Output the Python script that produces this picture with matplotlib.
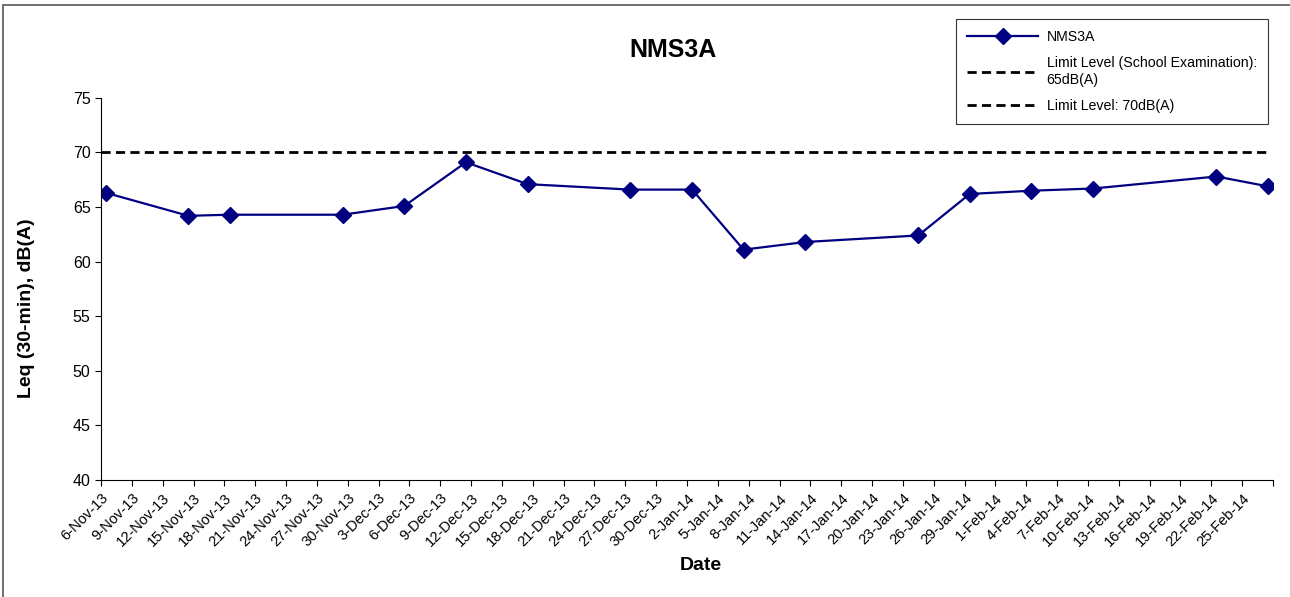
import pandas as pd
import matplotlib
matplotlib.use("Agg")
import matplotlib.pyplot as plt
from matplotlib.patches import Rectangle

plt.rcParams["font.family"] = ["Liberation Sans", "DejaVu Sans"]

dates = [
    "2013-11-06", "2013-11-14", "2013-11-18", "2013-11-29", "2013-12-05",
    "2013-12-11", "2013-12-17", "2013-12-27", "2014-01-02", "2014-01-07",
    "2014-01-13", "2014-01-24", "2014-01-29", "2014-02-04", "2014-02-10",
    "2014-02-22", "2014-02-27",
]
leq = [
    66.3, 64.2, 64.3, 64.3, 65.1,
    69.1, 67.1, 66.6, 66.6, 61.1,
    61.8, 62.4, 66.2, 66.5, 66.7,
    67.8, 66.9,
]
limit_school = 65
limit_general = 70
axis_start = "2013-11-06"
axis_end = "2014-02-28"
y_ticks = [40, 45, 50, 55, 60, 65, 70, 75]


def make_chart():
    fig = plt.figure(figsize=(12.9, 5.97), dpi=100)
    ax = fig.add_axes([0.0783, 0.196, 0.9085, 0.640])

    x = pd.to_datetime(dates) + pd.Timedelta(hours=12)
    start = pd.Timestamp(axis_start)
    end = pd.Timestamp(axis_end)
    dash = (0, (3.3, 1.9))

    ax.plot(x, leq, color="#000080", lw=1.6, marker="D", ms=8,
            label="NMS3A")
    # school exam limit has no points inside this period
    ax.plot([], [], color="black", ls=dash, lw=2,
            label="Limit Level (School Examination):\n65dB(A)")
    ax.hlines(limit_general, start, x[-1], color="black",
              ls=dash, lw=2, label="Limit Level: 70dB(A)")

    ticks = pd.date_range(start, end, freq="3D")
    ax.set_xticks(ticks)
    labels = [f"{d.day}-{d.strftime('%b-%y')}" for d in ticks]
    labels[-1] = ""
    ax.set_xticklabels(labels, rotation=45, ha="right",
                       rotation_mode="anchor", fontsize=10.5)
    ax.set_xlim(start, end)
    ax.set_ylim(40, 75)
    ax.set_yticks(y_ticks)
    ax.tick_params(axis="y", labelsize=11.5, length=4)
    ax.tick_params(axis="x", length=4, pad=4)

    ax.spines["top"].set_visible(False)
    ax.spines["right"].set_visible(False)

    fig.text(673 / 1290, 1 - 50 / 597, "NMS3A", ha="center", va="center",
             fontsize=18, fontweight="bold")
    fig.text(27 / 1290, 1 - 308 / 597, "Leq (30-min), dB(A)", rotation=90,
             ha="center", va="center", fontsize=14, fontweight="bold")
    fig.text(701 / 1290, 1 - 565 / 597, "Date", ha="center", va="center",
             fontsize=14, fontweight="bold")

    leg = fig.legend(loc="upper left",
                     bbox_to_anchor=(956 / 1290, 1 - 19 / 597),
                     borderaxespad=0, frameon=True, fancybox=False,
                     fontsize=10.2, handlelength=5.0, handletextpad=0.6,
                     labelspacing=0.85, borderpad=0.8)
    leg.get_frame().set_edgecolor("black")
    leg.get_frame().set_linewidth(0.8)

    # outer chart border
    fig.patches.append(Rectangle((3 / 1290, -0.1), 1.2, 1 - 5 / 597 + 0.1,
                                 transform=fig.transFigure, fill=False,
                                 edgecolor="#555555", lw=1.2))

    fig.savefig("out.png", dpi=100)


if __name__ == "__main__":
    make_chart()
